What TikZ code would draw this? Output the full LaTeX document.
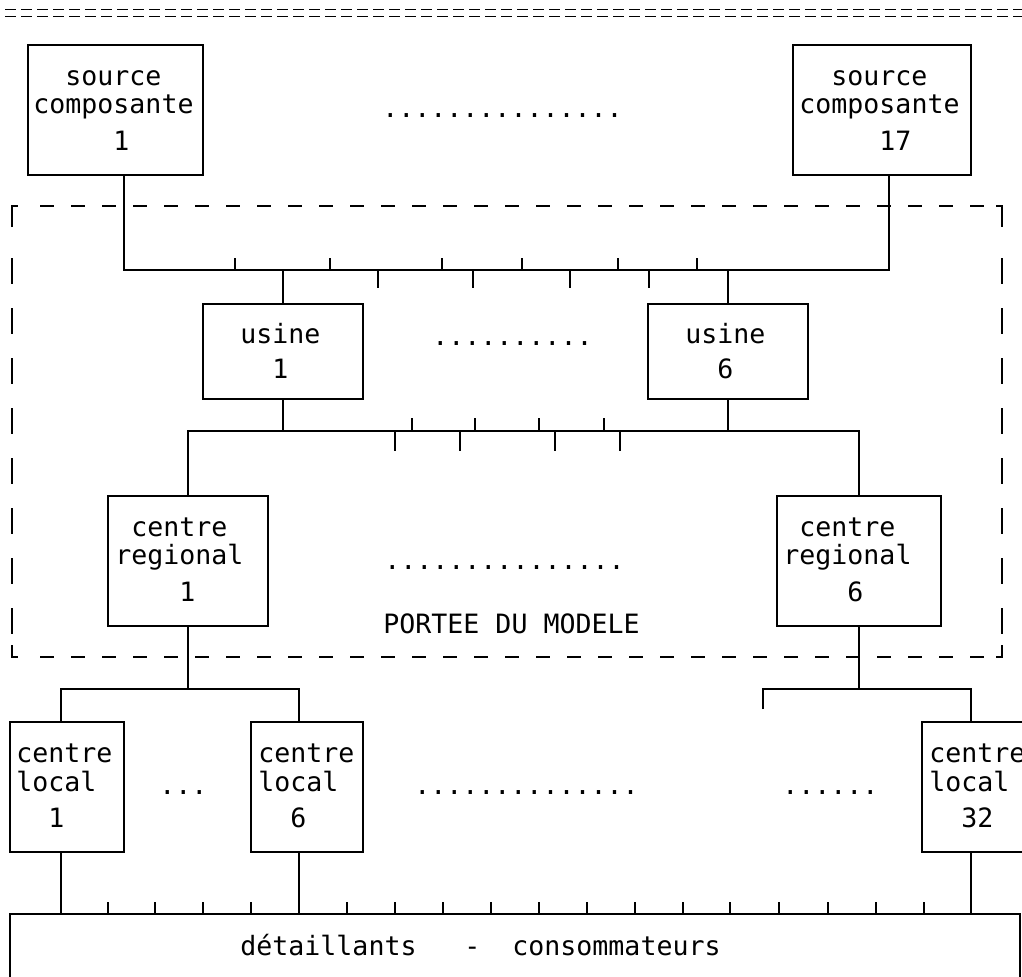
\documentclass[tikz,border=0pt]{standalone}
\usepackage{fontspec}
\newfontfamily\mono{DejaVu Sans Mono}
\usetikzlibrary{fit}
\begin{document}
\begin{tikzpicture}[x=0.5pt,y=-0.5pt,
  box/.style={draw, line width=0.8pt, inner sep=0pt},
  txt/.style={font=\mono\fontsize{13.3pt}{16pt}\selectfont, inner sep=0pt, anchor=base west},
  ln/.style={line width=0.6pt},
  frame/.style={line width=0.7pt},
  dashH/.style={line width=0.7pt, dash pattern=on 7pt off 8.5pt},
  dashV/.style={line width=0.7pt, dash pattern=on 13pt off 12pt},
  deco/.style={line width=0.9pt, dash pattern=on 5.5pt off 2.5pt}]
\clip (0,0) rectangle (1022,976);
\fill[white] (0,0) rectangle (1022,976);

% top separator
\draw[deco] (5,9.5) -- (1022,9.5);
\draw[deco] (5,16.5) -- (1022,16.5);

% dashed frame
\draw[frame] (12,227) -- (12,206) -- (18,206);
\draw[frame] (996,206) -- (1002,206) -- (1002,227);
\draw[frame] (12,645) -- (12,657) -- (18,657);
\draw[frame] (996,657) -- (1002,657) -- (1002,645);
\draw[dashH] (40,206) -- (985,206);
\draw[dashH] (40,657) -- (985,657);
\draw[dashV] (12,258) -- (12,640);
\draw[dashV] (1002,258) -- (1002,640);

% boxes
\node[box, fit={(28,45) (203,175)}] (s1) {};
\node[box, fit={(793,45) (971,175)}] (s17) {};
\node[box, fit={(203,304) (363,399)}] (u1) {};
\node[box, fit={(648,304) (808,399)}] (u6) {};
\node[box, fit={(108,496) (268,626)}] (c1) {};
\node[box, fit={(777,496) (941,626)}] (c6) {};
\node[box, fit={(10,722) (124,852)}] (l1) {};
\node[box, fit={(251,722) (363,852)}] (l6) {};
\node[box, fit={(922,722) (1036,852)}] (l32) {};
\node[box, fit={(10,914) (1020,1000)}] (dc) {};

% texts
\node[txt] (s1a) at (65,85) {source};
\node[txt] (s1b) at (33,113) {composante};
\node[txt] (s1c) at (113,150) {1};
\node[txt] (s17a) at (831,85) {source};
\node[txt] (s17b) at (799,113) {composante};
\node[txt] (s17c) at (879,150) {17};
\node[txt] (u1a) at (240,343) {usine};
\node[txt] (u1b) at (272,378) {1};
\node[txt] (u6a) at (685,343) {usine};
\node[txt] (u6b) at (717,378) {6};
\node[txt] (c1a) at (131,536) {centre};
\node[txt] (c1b) at (115,564) {regional};
\node[txt] (c1c) at (179,601) {1};
\node[txt] (c6a) at (799,536) {centre};
\node[txt] (c6b) at (783,564) {regional};
\node[txt] (c6c) at (847,601) {6};
\node[txt] (pm) at (383,633) {PORTEE DU MODELE};
\node[txt] (l1a) at (16,762) {centre};
\node[txt] (l1b) at (16,791) {local};
\node[txt] (l1c) at (48,827) {1};
\node[txt] (l6a) at (258,762) {centre};
\node[txt] (l6b) at (258,791) {local};
\node[txt] (l6c) at (290,827) {6};
\node[txt] (l32a) at (929,762) {centre};
\node[txt] (l32b) at (929,791) {local};
\node[txt] (l32c) at (961,827) {32};
\node[txt] (dca) at (240,955) {détaillants};
\node[txt] (dcb) at (464,955) {-};
\node[txt] (dcc) at (512,955) {consommateurs};

% dots
\node[txt] (d1) at (382,117) {...............};
\node[txt] (d2) at (432,345) {..........};
\node[txt] (d3) at (384,569) {...............};
\node[txt] (d4) at (159,794) {...};
\node[txt] (d5) at (414,794) {..............};
\node[txt] (d6) at (782,794) {......};

% level 1 bus
\coordinate (s1p) at (124,175);
\coordinate (s17p) at (889,175);
\coordinate (y1) at (0,270);
\draw[ln] (s1p) -- (s1p |- y1) -- (s17p |- y1) -- (s17p);
\draw[ln] (u1.north |- y1) -- (u1.north);
\draw[ln] (u6.north |- y1) -- (u6.north);
\foreach \x in {235,330,442,522,618,697} \draw[ln] (\x,270) -- (\x,258);
\foreach \x in {378,473,570,649} \draw[ln] (\x,270) -- (\x,288);

% level 2 bus
\coordinate (y2) at (0,431);
\draw[ln] (c1.north) -- (c1.north |- y2) -- (c6.north |- y2) -- (c6.north);
\draw[ln] (u1.south) -- (u1.south |- y2);
\draw[ln] (u6.south) -- (u6.south |- y2);
\foreach \x in {412,475,539,604} \draw[ln] (\x,431) -- (\x,418);
\foreach \x in {395,460,555,620} \draw[ln] (\x,431) -- (\x,451);

% level 3 buses
\coordinate (y3) at (0,689);
\coordinate (l1t) at (61,722);
\coordinate (l6t) at (299,722);
\coordinate (l32t) at (971,722);
\coordinate (r3) at (763,709);
\draw[ln] (c1.south) -- (c1.south |- y3);
\draw[ln] (c6.south) -- (c6.south |- y3);
\draw[ln] (l1t) -- (l1t |- y3) -- (l6t |- y3) -- (l6t);
\draw[ln] (r3) -- (r3 |- y3) -- (l32t |- y3) -- (l32t);

% bottom bus
\coordinate (l1p) at (61,852);
\coordinate (l6p) at (299,852);
\coordinate (l32p) at (971,852);
\draw[ln] (l1p) -- (l1p |- dc.north);
\draw[ln] (l6p) -- (l6p |- dc.north);
\draw[ln] (l32p) -- (l32p |- dc.north);
\foreach \x in {108,155,203,251,347,395,443,491,539,587,635,683,730,779,828,876,924} \draw[ln] (\x,914) -- (\x,902);
\end{tikzpicture}
\end{document}
